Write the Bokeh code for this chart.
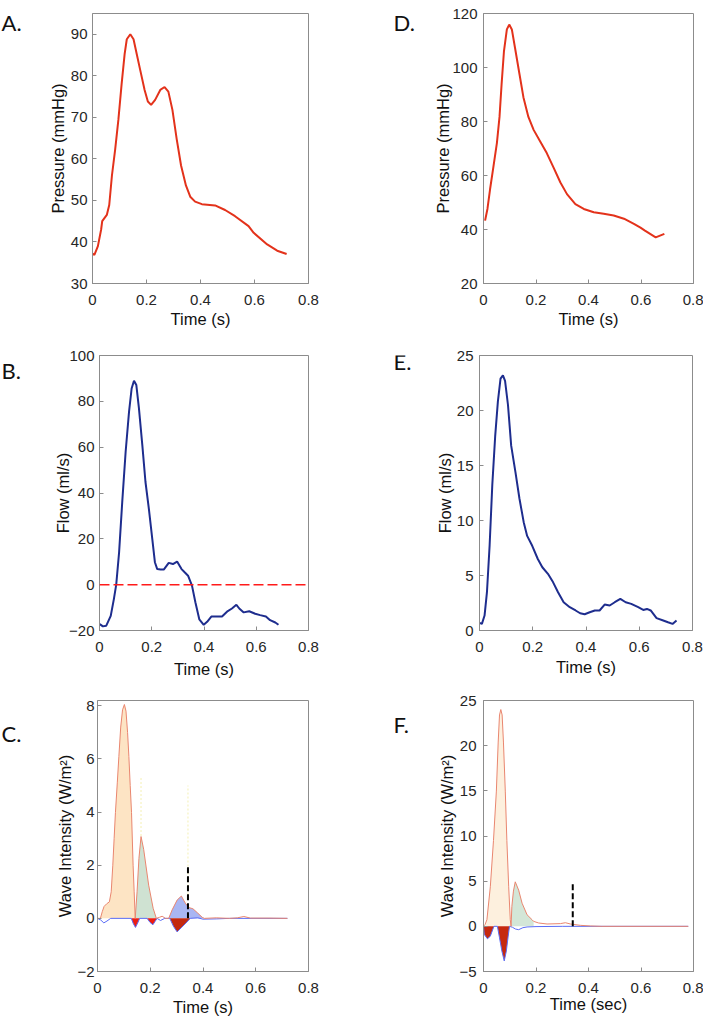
import numpy as np
from bokeh.plotting import figure
from bokeh.models import FixedTicker, Range1d, Span
from bokeh.layouts import column, row
from bokeh.embed import file_html
from bokeh.resources import INLINE
from bokeh.core.properties import value

# ------------------------------------------------------------------ data
X_TICKS = [0, 0.2, 0.4, 0.6, 0.8]
X_TICK_LABELS = ["0", "0.2", "0.4", "0.6", "0.8"]

# A. pressure (mmHg) vs time (s)
A_t = [0.000, 0.007, 0.020, 0.032, 0.036, 0.053, 0.062, 0.072, 0.084, 0.096,
       0.108, 0.119, 0.127, 0.140, 0.152, 0.164, 0.177, 0.193, 0.205, 0.217,
       0.232, 0.251, 0.267, 0.281, 0.296, 0.312, 0.328, 0.346, 0.362, 0.380,
       0.405, 0.454, 0.491, 0.528, 0.578, 0.597, 0.647, 0.684, 0.719]
A_p = [37.2, 36.9, 39.0, 43.0, 45.0, 46.5, 48.9, 56.0, 62.3, 69.5,
       78.1, 85.2, 88.8, 90.0, 88.8, 85.2, 81.3, 76.6, 73.8, 73.0,
       74.2, 76.6, 77.3, 76.2, 71.8, 64.7, 58.4, 53.6, 50.9, 49.7,
       49.1, 48.8, 47.7, 46.2, 43.8, 42.2, 39.4, 37.9, 37.1]
A_yticks = [30, 40, 50, 60, 70, 80, 90]

# D. pressure (mmHg) vs time (s)
D_t = [0.006, 0.015, 0.025, 0.038, 0.051, 0.061, 0.069, 0.078, 0.089, 0.098,
       0.108, 0.120, 0.137, 0.152, 0.171, 0.191, 0.216, 0.241, 0.267, 0.293,
       0.318, 0.350, 0.382, 0.420, 0.458, 0.496, 0.535, 0.573, 0.598, 0.615,
       0.656, 0.689]
D_p = [43.3, 47.6, 54.9, 63.4, 72.0, 81.7, 93.9, 106.1, 114.1, 115.9,
       114.1, 107.3, 97.6, 89.0, 81.7, 76.9, 72.6, 68.3, 62.9, 57.4,
       53.1, 49.4, 47.6, 46.4, 45.8, 45.2, 44.0, 42.1, 40.7, 39.6,
       37.1, 38.4]
D_yticks = [20, 40, 60, 80, 100, 120]

# B. flow (ml/s) vs time (s)
B_t = [0.001, 0.013, 0.026, 0.043, 0.055, 0.064, 0.075, 0.087, 0.100, 0.113,
       0.123, 0.132, 0.141, 0.151, 0.164, 0.176, 0.189, 0.202, 0.212, 0.221,
       0.234, 0.246, 0.265, 0.281, 0.297, 0.314, 0.326, 0.339, 0.354, 0.367,
       0.382, 0.399, 0.412, 0.428, 0.450, 0.469, 0.488, 0.507, 0.524, 0.535,
       0.552, 0.573, 0.596, 0.615, 0.637, 0.653, 0.673, 0.685]
B_q = [-17.2, -18.2, -17.9, -13.6, -6.3, 0.0, 14.1, 36.0, 57.9, 75.4,
       85.6, 89.0, 87.1, 76.9, 60.8, 44.8, 33.1, 20.0, 9.8, 6.8,
       6.6, 6.6, 9.5, 9.0, 10.1, 6.8, 5.4, 3.9, -0.4, -7.7,
       -15.1, -17.5, -16.2, -13.9, -13.9, -13.9, -11.8, -10.4, -8.8, -10.4,
       -12.1, -11.6, -12.7, -13.3, -13.9, -15.5, -16.5, -17.5]
B_yticks = [-20, 0, 20, 40, 60, 80, 100]
B_zero_flow = 0

# E. flow (ml/s) vs time (s)
E_t = [0.000, 0.009, 0.019, 0.028, 0.038, 0.048, 0.059, 0.069, 0.079, 0.088,
       0.096, 0.107, 0.119, 0.135, 0.150, 0.166, 0.179, 0.198, 0.219, 0.236,
       0.257, 0.276, 0.295, 0.316, 0.339, 0.361, 0.378, 0.395, 0.414, 0.433,
       0.451, 0.470, 0.489, 0.508, 0.529, 0.549, 0.570, 0.596, 0.615, 0.629,
       0.643, 0.665, 0.690, 0.708, 0.725, 0.740]
E_q = [0.69, 0.60, 1.36, 3.48, 7.73, 13.2, 17.7, 20.8, 22.9, 23.2,
       22.7, 20.5, 16.8, 14.4, 12.0, 9.85, 8.6, 7.7, 6.5, 5.75,
       5.15, 4.4, 3.48, 2.57, 2.12, 1.82, 1.57, 1.48, 1.66, 1.82,
       1.82, 2.36, 2.27, 2.57, 2.87, 2.57, 2.42, 2.12, 1.87, 1.96,
       1.82, 1.12, 0.91, 0.75, 0.60, 0.91]
E_yticks = [0, 5, 10, 15, 20, 25]

# C. wave intensity (W/m2): forward and backward components
C_fwd_t = [0.000, 0.011, 0.018, 0.025, 0.035, 0.045, 0.052, 0.058, 0.063, 0.068,
           0.075, 0.081, 0.088, 0.095, 0.102, 0.108, 0.114, 0.119, 0.124, 0.129,
           0.135, 0.139, 0.143, 0.150, 0.157, 0.165, 0.175, 0.194, 0.211, 0.223,
           0.235, 0.245, 0.258, 0.270, 0.283, 0.302, 0.318, 0.333, 0.346, 0.362,
           0.380, 0.397, 0.405, 0.450, 0.500, 0.530, 0.555, 0.580, 0.650, 0.720]
C_fwd = [0.00, 0.00, 0.25, 0.45, 0.55, 0.62, 1.00, 2.00, 3.00, 3.98,
         5.10, 6.09, 7.20, 7.85, 8.05, 7.80, 7.00, 6.09, 5.00, 3.98,
         2.00, 1.00, 0.00, 1.00, 2.25, 3.08, 2.60, 1.25, 0.38, 0.00,
         0.04, 0.08, 0.00, 0.00, 0.32, 0.69, 0.84, 0.57, 0.41, 0.36,
         0.20, 0.04, 0.00, 0.02, 0.00, 0.02, 0.07, 0.01, 0.01, 0.00]
C_bwd_t = [0.000, 0.012, 0.024, 0.036, 0.050, 0.128, 0.136, 0.144, 0.152, 0.160,
           0.188, 0.199, 0.210, 0.218, 0.226, 0.239, 0.255, 0.274, 0.288, 0.302,
           0.318, 0.335, 0.352, 0.380, 0.400, 0.450, 0.500, 0.720]
C_bwd = [0.00, -0.06, -0.17, -0.10, 0.00, 0.00, -0.20, -0.34, -0.18, 0.00,
         0.00, -0.15, -0.24, -0.12, 0.00, -0.08, 0.00, 0.00, -0.30, -0.51,
         -0.35, -0.18, 0.00, 0.02, -0.03, -0.02, 0.00, 0.00]
C_fwd_windows = [(0.011, 0.143), (0.143, 0.223), (0.270, 0.405)]
C_bwd_windows = [(0.128, 0.160), (0.188, 0.226), (0.274, 0.352)]
C_marker = (0.343, 2.0)
C_faint_marks = [(0.165, 3.1, 5.3), (0.343, 0.9, 5.0)]
C_yticks = [-2, 0, 2, 4, 6, 8]

# F. wave intensity (W/m2)
F_fwd_t = [0.000, 0.006, 0.013, 0.026, 0.038, 0.049, 0.056, 0.061, 0.066, 0.071,
           0.076, 0.083, 0.089, 0.096, 0.102, 0.105, 0.108, 0.114, 0.121, 0.134,
           0.147, 0.166, 0.185, 0.191, 0.210, 0.242, 0.293, 0.312, 0.331, 0.369,
           0.408, 0.450, 0.780]
F_fwd = [0.00, 0.20, 0.73, 4.38, 9.49, 14.97, 20.40, 23.40, 24.00, 23.40,
         20.40, 14.97, 9.49, 4.38, 0.73, 0.00, 2.19, 3.90, 4.93, 4.00,
         2.56, 1.28, 0.73, 0.55, 0.37, 0.26, 0.30, 0.40, 0.26, 0.11,
         0.04, 0.00, 0.00]
F_bwd_t = [0.000, 0.003, 0.015, 0.026, 0.036, 0.040, 0.053, 0.061, 0.070, 0.079,
           0.087, 0.094, 0.099, 0.110, 0.122, 0.134, 0.150, 0.166, 0.200, 0.300,
           0.780]
F_bwd = [0.00, -0.90, -1.38, -1.09, -0.29, 0.00, 0.00, -1.27, -2.74, -3.83,
         -2.74, -1.09, 0.00, -0.10, -0.30, -0.37, -0.15, -0.07, -0.03, 0.00,
         0.00]
F_fwd_windows = [(0.000, 0.105), (0.105, 0.191)]
F_bwd_windows = [(0.000, 0.040), (0.053, 0.099)]
F_marker = (0.340, 5.0)
F_yticks = [-5, 0, 5, 10, 15, 20, 25]

PANEL_LETTERS = ["A.", "B.", "C.", "D.", "E.", "F."]

# ------------------------------------------------------------------ style
FONT = "Liberation Sans"
LETTER_FONT = "Lato"
GRAY = "#8c8c8c"
PRESSURE_COLOR = "#e3321b"
FLOW_COLOR = "#1e2d8e"
FWD_LINE = "#e9866f"
BWD_LINE = "#5a6cf5"
X_OVERRIDES = {t: s for t, s in zip(X_TICKS, X_TICK_LABELS)}

ROW_H = [338, 342, 340]          # heights of the three rows of panels
STRIP_W = [30, 69]               # strips holding the panel letters
FIG_W = [321, 283]               # chart figures


def style_axis(ax, ticks, std, lab_std, overrides=None):
    ax.ticker = FixedTicker(ticks=ticks)
    ax.axis_line_color = GRAY
    ax.major_tick_line_color = GRAY
    ax.major_tick_in = 4
    ax.major_tick_out = 0
    ax.minor_tick_line_color = None
    ax.major_label_text_font = FONT
    ax.major_label_text_font_size = "15px"
    ax.major_label_text_color = "#262626"
    ax.major_label_standoff = std
    ax.axis_label_text_font = FONT
    ax.axis_label_text_font_size = "16.5px"
    ax.axis_label_text_font_style = "normal"
    ax.axis_label_text_color = "#111111"
    ax.axis_label_standoff = lab_std
    if overrides:
        ax.major_label_overrides = overrides


def make_fig(w, h, bl, br, bt, bb, yr, yticks, xlabel, ylabel,
             ystd, ylab_std, xstd, xlab_std):
    p = figure(width=w, height=h, x_range=Range1d(0, 0.8), y_range=Range1d(*yr),
               output_backend="svg", toolbar_location=None,
               min_border_left=bl, min_border_right=br,
               min_border_top=bt, min_border_bottom=bb,
               x_axis_label=xlabel, y_axis_label=ylabel)
    p.grid.visible = False
    p.outline_line_color = GRAY
    p.outline_line_width = 1
    p.background_fill_color = "white"
    p.border_fill_color = "white"
    style_axis(p.below[0], X_TICKS, xstd, xlab_std, X_OVERRIDES)
    style_axis(p.left[0], yticks, ystd, ylab_std)
    return p


def letter_strip(w, h, letter, cx, cy):
    # bare figure; its frame is aligned with the neighbouring charts' frames
    s = figure(width=w, height=h, x_range=Range1d(0, w), y_range=Range1d(0, h),
               output_backend="svg", toolbar_location=None, title_location=None,
               x_axis_location=None, y_axis_location=None,
               min_border=0, min_border_left=0, min_border_right=0,
               min_border_top=0, min_border_bottom=0)
    s.grid.visible = False
    s.outline_line_color = None
    s.background_fill_color = "white"
    s.border_fill_color = "white"
    s.text(x=[cx], y=[h - cy], text=[letter], text_font=value(LETTER_FONT),
           text_font_size="22px", text_baseline="middle", text_align="left",
           text_color="#111111")
    return s


def in_window(t, a, b):
    t = np.asarray(t)
    return (t >= a - 1e-9) & (t <= b + 1e-9)


def wave_fills(p, t, w, windows, colors):
    t, w = np.asarray(t), np.asarray(w)
    for (a, b), col in zip(windows, colors):
        m = in_window(t, a, b)
        p.varea(x=t[m], y1=0, y2=w[m], fill_color=col)


# ------------------------------------------------------------------ figures
pA = make_fig(FIG_W[0], ROW_H[0], 62, 43, 13, 52, (30, 95), A_yticks,
              "Time (s)", "Pressure (mmHg)", 5, 1, 11, 2)
pA.line(A_t, A_p, line_color=PRESSURE_COLOR, line_width=2)

pD = make_fig(FIG_W[1], ROW_H[0], 63, 10, 10, 55, (20, 120), D_yticks,
              "Time (s)", "Pressure (mmHg)", 6, -3, 11, 2)
pD.line(D_t, D_p, line_color=PRESSURE_COLOR, line_width=2)

pB = make_fig(FIG_W[0], ROW_H[1], 69, 43, 17, 50, (-20, 100), B_yticks,
              "Time (s)", "Flow (ml/s)", 5, -6, 11, 5)
pB.add_layout(Span(location=B_zero_flow, dimension="width", line_color="#ff1a1a",
                   line_dash="10 4", line_width=1.5))
pB.line(B_t, B_q, line_color=FLOW_COLOR, line_width=2)

pE = make_fig(FIG_W[1], ROW_H[1], 59, 11, 17, 50, (0, 25), E_yticks,
              "Time (s)", "Flow (ml/s)", 6, 0, 11, 3)
pE.line(E_t, E_q, line_color=FLOW_COLOR, line_width=2)

pC = make_fig(FIG_W[0], ROW_H[2], 67, 43, 20, 49, (-2, 8.2), C_yticks,
              "Time (s)", "Wave Intensity (W/m\u00b2)", 3, 0, 11, 2)
wave_fills(pC, C_fwd_t, C_fwd, C_fwd_windows, ["#fde4c4", "#cfe2d2", "#a9b6f3"])
wave_fills(pC, C_bwd_t, C_bwd, C_bwd_windows, ["#ee1d10", "#ee1d10", "#c3290f"])
pC.line(C_bwd_t, C_bwd, line_color=BWD_LINE, line_width=1)
pC.line(C_fwd_t, C_fwd, line_color=FWD_LINE, line_width=1)
for (t, y0, y1) in C_faint_marks:
    pC.segment(x0=[t], y0=[y0], x1=[t], y1=[y1], line_color="#f6f3c0",
               line_dash="2 2", line_width=1.2)
pC.segment(x0=[C_marker[0]], y0=[0], x1=[C_marker[0]], y1=[C_marker[1]],
           line_color="black", line_dash="6 3", line_width=2)

pF = make_fig(FIG_W[1], ROW_H[2], 63, 10, 18, 47, (-5, 25), F_yticks,
              "Time (sec)", "Wave Intensity (W/m\u00b2)", 7, 0, 11, -1)
wave_fills(pF, F_fwd_t, F_fwd, F_fwd_windows, ["#fdf0de", "#d3e6d7"])
wave_fills(pF, F_bwd_t, F_bwd, F_bwd_windows, ["#c6290f", "#c6290f"])
pF.line(F_bwd_t, F_bwd, line_color=BWD_LINE, line_width=1)
pF.line(F_fwd_t, F_fwd, line_color=FWD_LINE, line_width=1)
pF.segment(x0=[F_marker[0]], y0=[0], x1=[F_marker[0]], y1=[F_marker[1]],
           line_color="black", line_dash="6 3", line_width=2)

sA = letter_strip(STRIP_W[0], ROW_H[0], PANEL_LETTERS[0], 1, 11)
sD = letter_strip(STRIP_W[1], ROW_H[0], PANEL_LETTERS[3], 42, 11)
sB = letter_strip(STRIP_W[0], ROW_H[1], PANEL_LETTERS[1], 1, 19)
sC = letter_strip(STRIP_W[0], ROW_H[2], PANEL_LETTERS[2], 1, 41)
sE = letter_strip(STRIP_W[1], ROW_H[1], PANEL_LETTERS[4], 42, 8)
sF = letter_strip(STRIP_W[1], ROW_H[2], PANEL_LETTERS[5], 42, 30)

layout = column(row(sA, pA, sD, pD), row(sB, pB, sE, pE), row(sC, pC, sF, pF))
open("out.html", "w").write(file_html(layout, INLINE))
